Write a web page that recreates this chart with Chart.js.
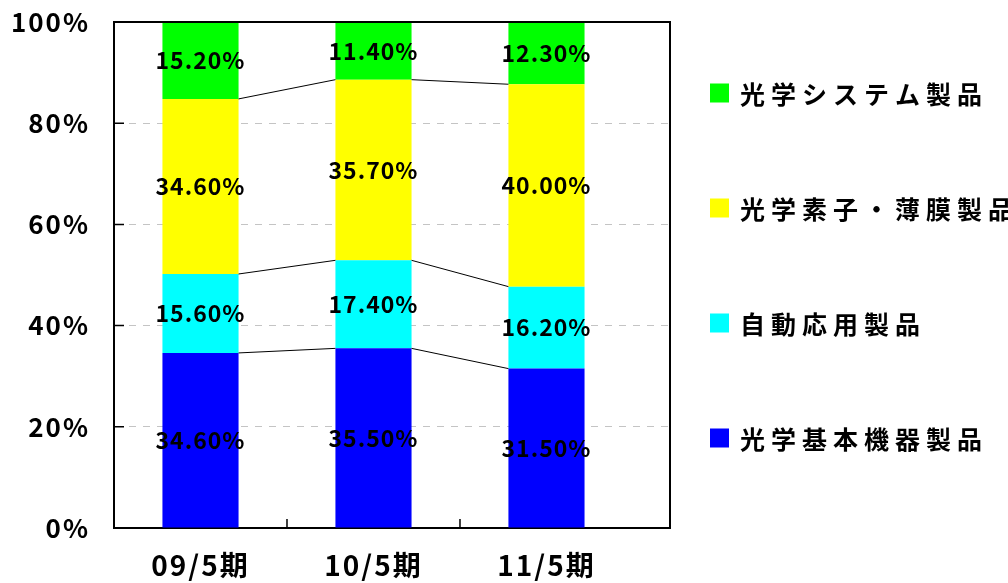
<!DOCTYPE html>
<html>
<head>
<meta charset="utf-8">
<script src="https://cdn.jsdelivr.net/npm/chart.js@4"></script>
<style>
  html, body { margin: 0; padding: 0; background: #fff; }
</style>
</head>
<body>
<canvas id="chart" width="1008" height="583"></canvas>
<script>
const categories = ["09/5期", "10/5期", "11/5期"];
const seriesNames = ["光学基本機器製品", "自動応用製品", "光学素子・薄膜製品", "光学システム製品"];
const seriesColors = ["#0000ff", "#00ffff", "#ffff00", "#00ff00"];
const basicValues = [34.6, 35.5, 31.5];
const autoValues = [15.6, 17.4, 16.2];
const elementValues = [34.6, 35.7, 40.0];
const systemValues = [15.2, 11.4, 12.3];
const yTicks = [0, 20, 40, 60, 80, 100];

const FONT = "'Noto Sans CJK JP', 'Noto Sans', sans-serif";
Chart.defaults.font.family = FONT;
Chart.defaults.color = "#000";

// letter spacing for the axis text
const spacing = {
  id: "spacing",
  beforeUpdate(chart) { chart.ctx.letterSpacing = "2px"; },
  beforeDraw(chart) { chart.ctx.letterSpacing = "2px"; }
};

// top and right frame, inward tick marks
const frame = {
  id: "frame",
  afterDatasetsDraw(chart) {
    const { ctx, chartArea: a, scales } = chart;
    ctx.save();
    ctx.strokeStyle = "#000";
    ctx.lineWidth = 2;
    ctx.beginPath();
    ctx.moveTo(a.left, a.top);
    ctx.lineTo(a.right, a.top);
    ctx.lineTo(a.right, a.bottom);
    ctx.stroke();
    ctx.lineWidth = 1.5;
    ctx.beginPath();
    yTicks.slice(1, -1).forEach(v => {
      const y = scales.y.getPixelForValue(v);
      ctx.moveTo(a.left, y);
      ctx.lineTo(a.left + 10, y);
    });
    categories.slice(1).forEach((c, i) => {
      const x = scales.x.getPixelForValue(i + 0.5);
      ctx.moveTo(x, a.bottom);
      ctx.lineTo(x, a.bottom - 9);
    });
    ctx.stroke();
    ctx.restore();
  }
};

// series lines between bars, then value labels
const seriesLines = {
  id: "seriesLines",
  afterDatasetsDraw(chart) {
    const ctx = chart.ctx;
    ctx.save();
    ctx.strokeStyle = "#000";
    ctx.lineWidth = 1;
    ctx.beginPath();
    for (let d = 0; d < chart.data.datasets.length - 1; d++) {
      const bars = chart.getDatasetMeta(d).data;
      for (let i = 0; i < bars.length - 1; i++) {
        const a = bars[i], b = bars[i + 1];
        ctx.moveTo(a.x + a.width / 2, a.y);
        ctx.lineTo(b.x - b.width / 2, b.y);
      }
    }
    ctx.stroke();

    ctx.letterSpacing = "1px";
    ctx.font = "bold 23px " + FONT;
    ctx.fillStyle = "#000";
    ctx.textAlign = "center";
    ctx.textBaseline = "middle";
    chart.data.datasets.forEach((ds, d) => {
      chart.getDatasetMeta(d).data.forEach((bar, i) => {
        ctx.fillText(ds.data[i].y.toFixed(2) + "%", bar.x, (bar.y + bar.base) / 2);
      });
    });
    ctx.restore();
  }
};

// legend on the right, top item = top of the stack
const sideLegend = {
  id: "sideLegend",
  afterDraw(chart) {
    const { ctx, chartArea: a } = chart;
    const sets = chart.data.datasets.slice().reverse();
    const step = 115;
    const y0 = a.top + 71;
    const x0 = a.right + 40;
    ctx.save();
    ctx.letterSpacing = "6px";
    ctx.font = "bold 25px " + FONT;
    ctx.textAlign = "left";
    ctx.textBaseline = "middle";
    sets.forEach((ds, i) => {
      const y = y0 + i * step;
      ctx.fillStyle = ds.backgroundColor;
      ctx.fillRect(x0, y - 9.5, 19, 19);
      ctx.fillStyle = "#000";
      ctx.fillText(ds.label, x0 + 30, y + 1);
    });
    ctx.restore();
  }
};

const seriesValues = [basicValues, autoValues, elementValues, systemValues];

new Chart(document.getElementById("chart").getContext("2d"), {
  type: "bar",
  data: {
    datasets: seriesValues.map((vals, s) => ({
      label: seriesNames[s],
      data: vals.map((v, i) => ({ x: i, y: v })),
      backgroundColor: seriesColors[s],
      borderWidth: 0,
      barPercentage: 0.44,
      categoryPercentage: 1
    }))
  },
  options: {
    responsive: false,
    animation: false,
    events: [],
    layout: { padding: { top: 0, right: 338, bottom: 0, left: 0 } },
    scales: {
      x: {
        type: "linear",
        stacked: true,
        offset: false,
        min: -0.5,
        max: 2.714,
        grid: { display: false, drawTicks: false },
        border: { color: "#000", width: 2 },
        afterBuildTicks(scale) {
          scale.ticks = categories.map((c, i) => ({ value: i }));
        },
        afterFit(scale) { scale.height = 55; },
        ticks: {
          autoSkip: false,
          maxRotation: 0,
          padding: 21,
          font: { size: 28, weight: "bold" },
          callback: v => categories[v]
        }
      },
      y: {
        stacked: true,
        min: 0,
        max: 100,
        afterBuildTicks(scale) {
          scale.ticks = yTicks.map(v => ({ value: v }));
        },
        afterFit(scale) {
          scale.width = 114;
          scale.paddingTop = 22;
          scale.paddingBottom = 0;
        },
        grid: {
          drawTicks: false,
          lineWidth: 1,
          color: c => (c.tick && (c.tick.value === 0 || c.tick.value === 100)) ? "rgba(0,0,0,0)" : "#c4c4c4"
        },
        border: { color: "#000", width: 2, dash: [7, 7] },
        ticks: {
          padding: 24,
          font: { size: 26, weight: "bold" },
          callback: v => v + "%"
        }
      }
    },
    plugins: {
      tooltip: { enabled: false },
      legend: { display: false }
    }
  },
  plugins: [spacing, frame, seriesLines, sideLegend]
});
</script>
</body>
</html>
